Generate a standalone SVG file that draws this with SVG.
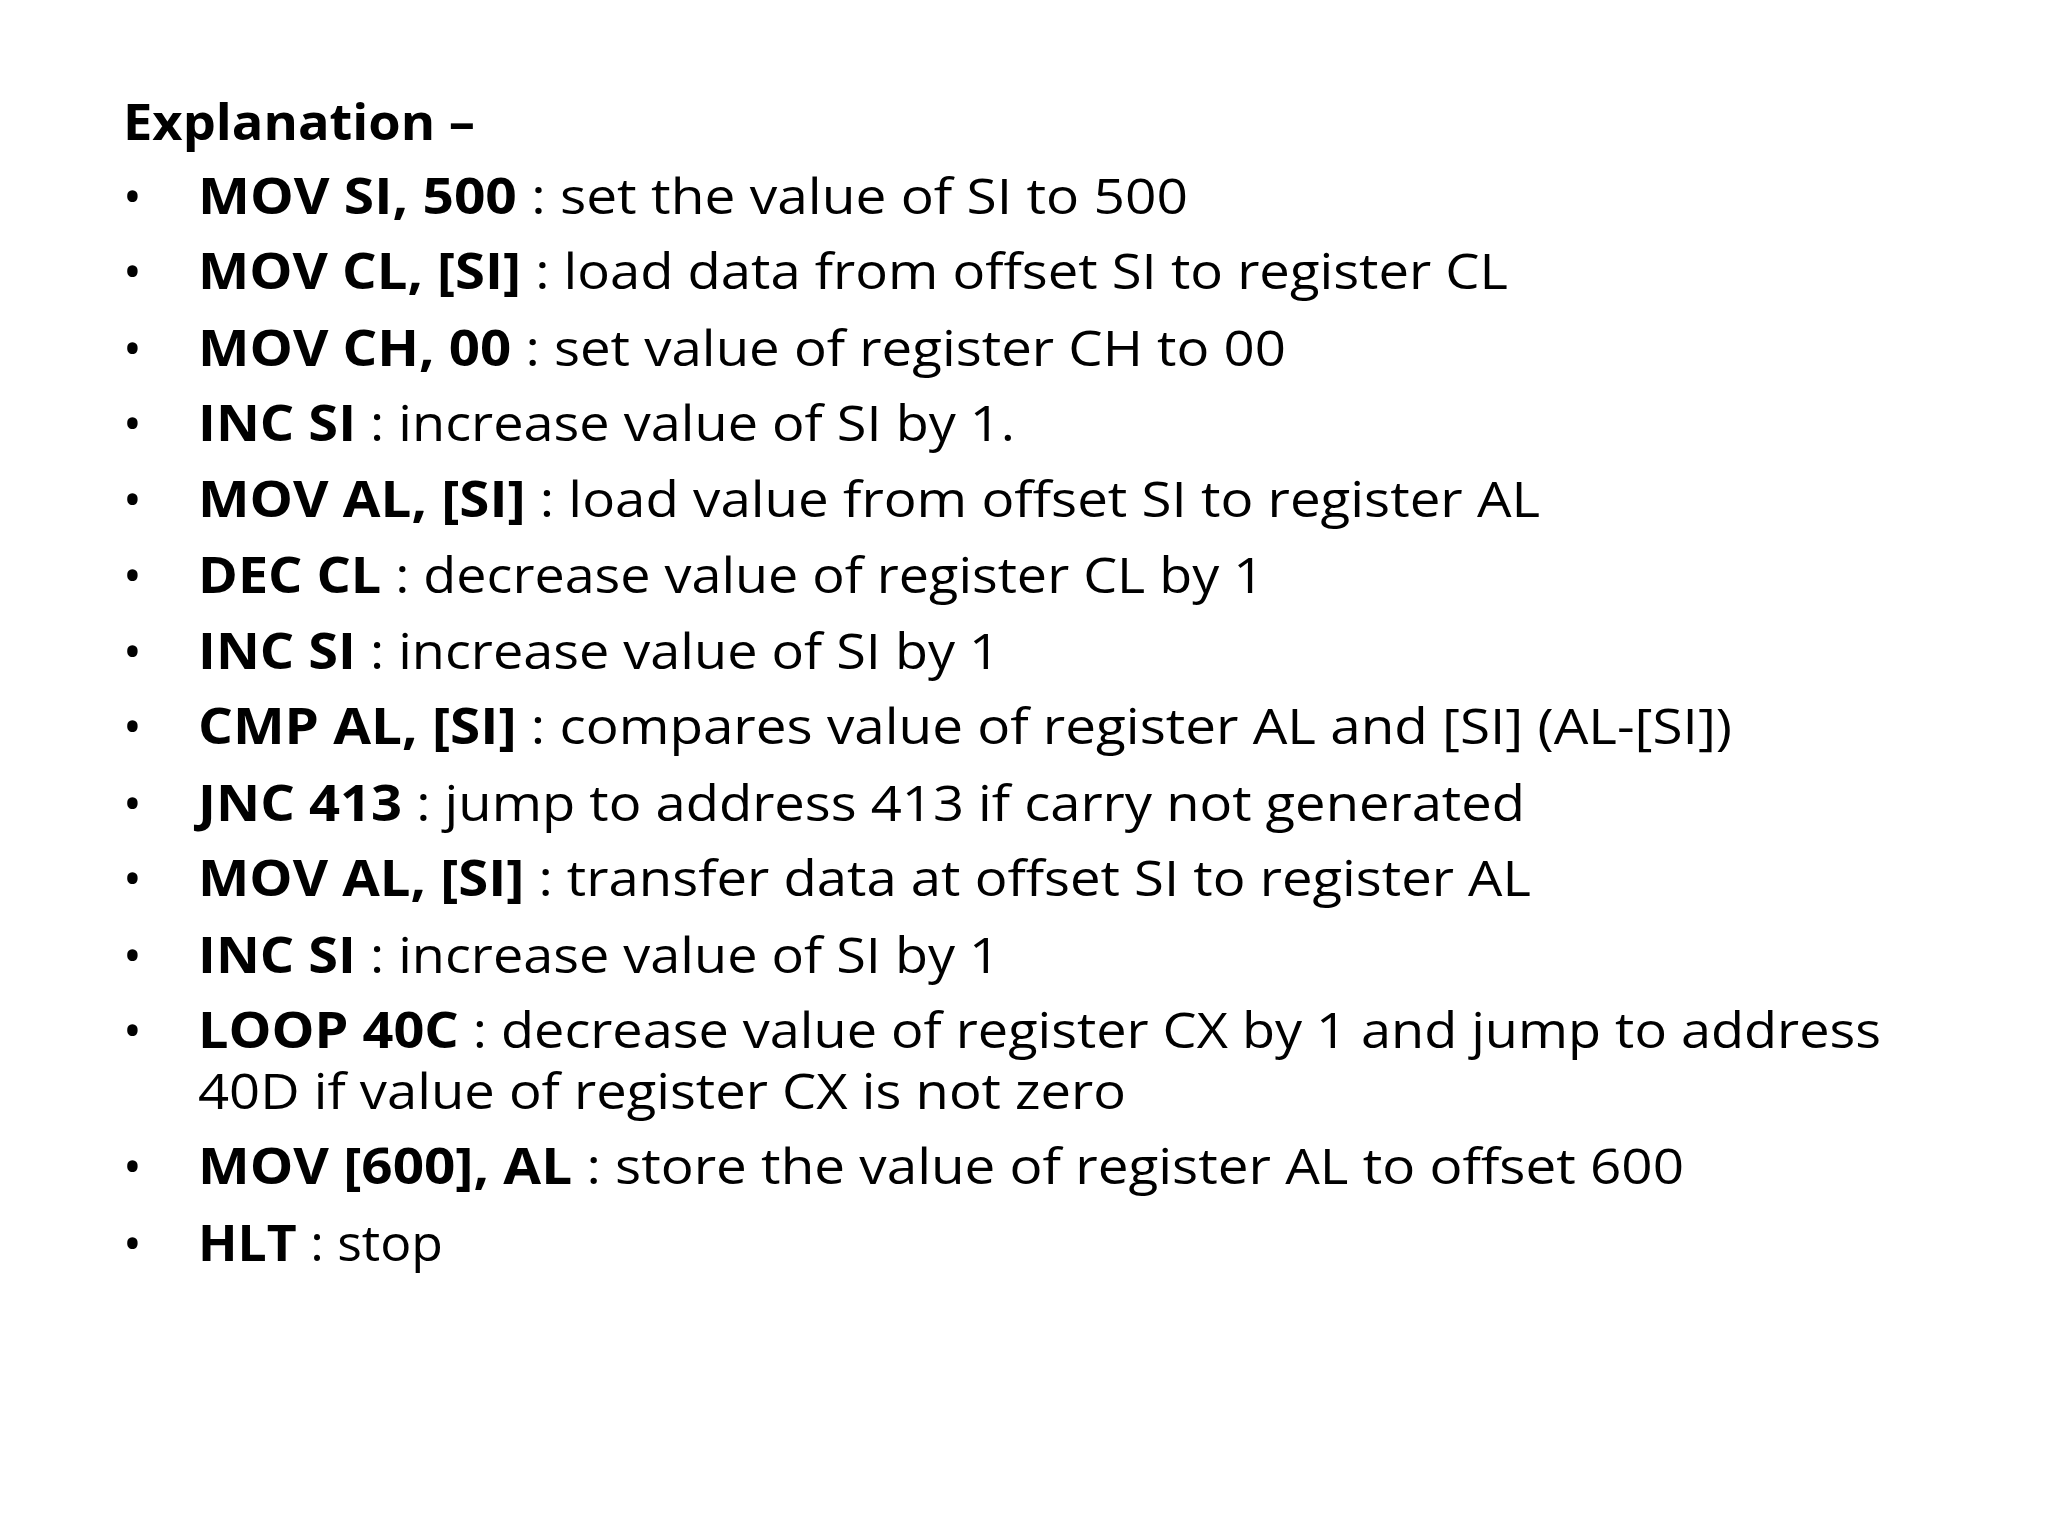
<svg xmlns="http://www.w3.org/2000/svg" width="2048" height="1536" viewBox="0 0 2048 1536">
<style>
text{font-family:"Open Sans","Liberation Sans",sans-serif;font-size:50px;fill:#000}
.b{font-weight:bold}
</style>
<rect width="2048" height="1536" fill="#fff"/>
<g id="title"><text x="123" y="140" class="b" textLength="352" lengthAdjust="spacingAndGlyphs">Explanation –</text></g>
<g id="bullets" transform="translate(0,-4)">
<text x="123" y="218">•</text><text x="123" y="293">•</text><text x="123" y="370">•</text><text x="123" y="445">•</text><text x="123" y="521">•</text><text x="123" y="597">•</text><text x="123" y="673">•</text><text x="123" y="748">•</text><text x="123" y="825">•</text><text x="123" y="900">•</text><text x="123" y="977">•</text><text x="123" y="1052">•</text><text x="123" y="1188">•</text><text x="123" y="1265">•</text>
</g>
<g id="lines" transform="translate(-4,-4)">
<text x="202" y="218" textLength="990" lengthAdjust="spacingAndGlyphs"><tspan class="b">MOV SI, 500</tspan> : set the value of SI to 500</text>
<text x="202" y="293" textLength="1310" lengthAdjust="spacingAndGlyphs"><tspan class="b">MOV CL, [SI]</tspan> : load data from offset SI to register CL</text>
<text x="202" y="370" textLength="1088" lengthAdjust="spacingAndGlyphs"><tspan class="b">MOV CH, 00</tspan> : set value of register CH to 00</text>
<text x="202" y="445" textLength="817" lengthAdjust="spacingAndGlyphs"><tspan class="b">INC SI</tspan> : increase value of SI by 1.</text>
<text x="202" y="521" textLength="1342" lengthAdjust="spacingAndGlyphs"><tspan class="b">MOV AL, [SI]</tspan> : load value from offset SI to register AL</text>
<text x="202" y="597" textLength="1066" lengthAdjust="spacingAndGlyphs"><tspan class="b">DEC CL</tspan> : decrease value of register CL by 1</text>
<text x="202" y="673" textLength="802" lengthAdjust="spacingAndGlyphs"><tspan class="b">INC SI</tspan> : increase value of SI by 1</text>
<text x="202" y="748" textLength="1534" lengthAdjust="spacingAndGlyphs"><tspan class="b">CMP AL, [SI]</tspan> : compares value of register AL and [SI] (AL-[SI])</text>
<text x="202" y="825" textLength="1327" lengthAdjust="spacingAndGlyphs"><tspan class="b">JNC 413</tspan> : jump to address 413 if carry not generated</text>
<text x="202" y="900" textLength="1333" lengthAdjust="spacingAndGlyphs"><tspan class="b">MOV AL, [SI]</tspan> : transfer data at offset SI to register AL</text>
<text x="202" y="977" textLength="802" lengthAdjust="spacingAndGlyphs"><tspan class="b">INC SI</tspan> : increase value of SI by 1</text>
<text x="202" y="1052" textLength="1683" lengthAdjust="spacingAndGlyphs"><tspan class="b">LOOP 40C</tspan> : decrease value of register CX by 1 and jump to address</text>
<text x="202" y="1113" textLength="928" lengthAdjust="spacingAndGlyphs">40D if value of register CX is not zero</text>
<text x="202" y="1188" textLength="1486" lengthAdjust="spacingAndGlyphs"><tspan class="b">MOV [600], AL</tspan> : store the value of register AL to offset 600</text>
<text x="202" y="1265" textLength="245" lengthAdjust="spacingAndGlyphs"><tspan class="b">HLT</tspan> : stop</text>
</g>
</svg>
